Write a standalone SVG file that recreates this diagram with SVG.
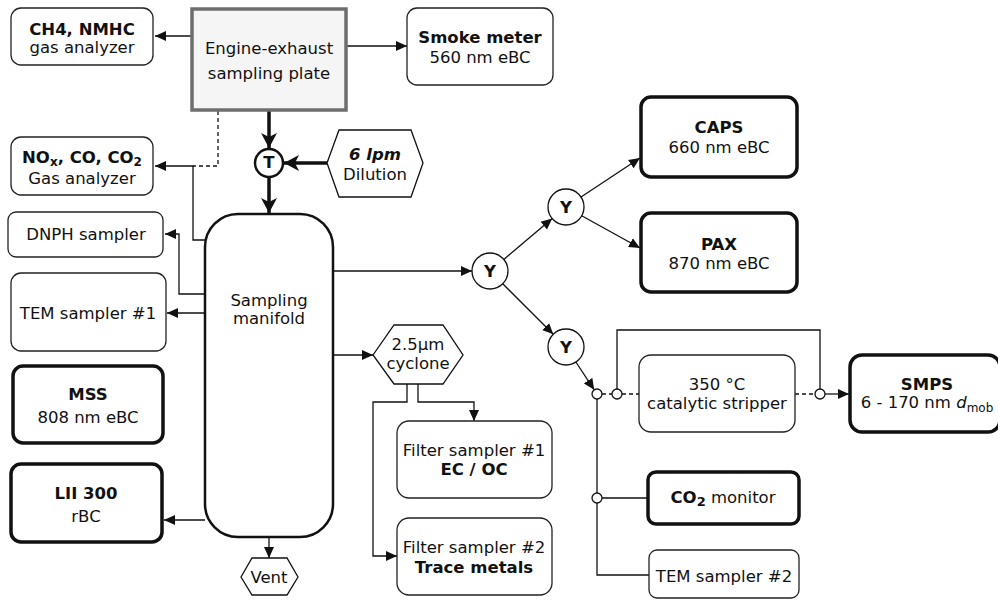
<svg xmlns="http://www.w3.org/2000/svg" width="998" height="600" viewBox="0 0 998 600">
  <defs>
    <style>
      text { font-family: "DejaVu Sans", Verdana, "Liberation Sans", sans-serif; font-size: 16.5px; fill: #111; text-anchor: middle; }
      .b { font-weight: bold; }
      .bi { font-weight: bold; font-style: italic; }
      .box { fill: #fff; stroke: #222; stroke-width: 1.3; }
      .thick { fill: #fff; stroke: #111; stroke-width: 3.5; }
      .plate { fill: #f5f5f5; stroke: #6e6e6e; stroke-width: 3.5; }
      .node { fill: #fff; stroke: #111; stroke-width: 1.3; }
      .conn { fill: none; stroke: #111; stroke-width: 1.3; }
      .dash { fill: none; stroke: #111; stroke-width: 1.3; stroke-dasharray: 4 3; }
      .heavy { fill: none; stroke: #111; stroke-width: 3.5; }
      .port { fill: #fff; stroke: #111; stroke-width: 1.3; }
    </style>
    <marker id="arr" markerUnits="userSpaceOnUse" markerWidth="14" markerHeight="12" refX="11" refY="6" orient="auto">
      <path d="M0,1 L11,6 L0,11 Z" fill="#111"/>
    </marker>
    <marker id="arrBig" markerUnits="userSpaceOnUse" markerWidth="20" markerHeight="20" refX="15" refY="10" orient="auto">
      <path d="M0,2 L15,10 L0,18 L4,10 Z" fill="#111"/>
    </marker>
  </defs>

  <!-- connectors -->
  <g id="connectors">
    <line class="conn" x1="192" y1="36" x2="155" y2="36" marker-end="url(#arr)"/>
    <line class="conn" x1="346" y1="46" x2="407" y2="46" marker-end="url(#arr)"/>
    <line class="heavy" x1="269" y1="111" x2="269" y2="148" marker-end="url(#arrBig)"/>
    <line class="heavy" x1="327" y1="163" x2="284" y2="163" marker-end="url(#arrBig)"/>
    <line class="heavy" x1="269" y1="178" x2="269" y2="213" marker-end="url(#arrBig)"/>
    <polyline class="dash" points="218,111 218,166 193,166"/>
    <polyline class="conn" points="205,240 193,240 193,166 155,166" marker-end="url(#arr)"/>
    <polyline class="conn" points="205,294 179,294 179,234 165,234" marker-end="url(#arr)"/>
    <line class="conn" x1="205" y1="313" x2="167" y2="313" marker-end="url(#arr)"/>
    <line class="conn" x1="205" y1="520" x2="164" y2="520" marker-end="url(#arr)"/>
    <line class="conn" x1="269" y1="538" x2="269" y2="558" marker-end="url(#arr)"/>
    <line class="conn" x1="334" y1="271" x2="472" y2="271" marker-end="url(#arr)"/>
    <line class="conn" x1="503.8" y1="259.4" x2="552.2" y2="218.6" marker-end="url(#arr)"/>
    <line class="conn" x1="581" y1="197" x2="640" y2="158" marker-end="url(#arr)"/>
    <line class="conn" x1="581.7" y1="215.7" x2="640" y2="248" marker-end="url(#arr)"/>
    <line class="conn" x1="502.7" y1="283.7" x2="553.3" y2="334.3" marker-end="url(#arr)"/>
    <line class="conn" x1="575.9" y1="362" x2="594.2" y2="389.8" marker-end="url(#arr)"/>
    <line class="conn" x1="334" y1="355" x2="373" y2="355" marker-end="url(#arr)"/>
    <polyline class="conn" points="407,384 407,402 373,402 373,556 397,556" marker-end="url(#arr)"/>
    <polyline class="conn" points="418,384 418,402 474,402 474,421" marker-end="url(#arr)"/>
    <line class="dash" x1="602" y1="394" x2="612" y2="394"/>
    <line class="dash" x1="622" y1="394" x2="639" y2="394"/>
    <line class="dash" x1="795" y1="394" x2="815" y2="394"/>
    <line class="conn" x1="825" y1="394" x2="849" y2="394" marker-end="url(#arr)"/>
    <polyline class="conn" points="617,389 617,330 820,330 820,389"/>
    <polyline class="conn" points="597,399 597,575 649,575"/>
    <line class="conn" x1="602" y1="498" x2="648" y2="498"/>
    <circle class="port" cx="597" cy="394" r="5"/>
    <circle class="port" cx="617" cy="394" r="5"/>
    <circle class="port" cx="820" cy="394" r="5"/>
    <circle class="port" cx="597" cy="498" r="5"/>
  </g>

  <!-- source and gas analysers -->
  <g id="plate">
    <rect class="plate" x="192" y="9" width="154" height="101"/>
    <text x="269" y="54">Engine-exhaust</text>
    <text x="269" y="79">sampling plate</text>
  </g>
  <g id="ch4">
    <rect class="box" x="11" y="8" width="142" height="57" rx="10"/>
    <text x="82" y="35" class="b">CH4, NMHC</text>
    <text x="82" y="53">gas analyzer</text>
  </g>
  <g id="smoke">
    <rect class="box" x="407" y="8" width="146" height="77" rx="10"/>
    <text x="480" y="43" class="b">Smoke meter</text>
    <text x="480" y="63">560 nm eBC</text>
  </g>
  <g id="nox">
    <rect class="box" x="11" y="137" width="142" height="58" rx="10"/>
    <text x="82" y="163" class="b">NO<tspan font-size="12" dy="3">x</tspan><tspan dy="-3">, CO, CO</tspan><tspan font-size="12" dy="3">2</tspan></text>
    <text x="82" y="184">Gas analyzer</text>
  </g>
  <g id="tee">
    <circle cx="269" cy="163" r="14" fill="#fff" stroke="#111" stroke-width="2.5"/>
    <text x="269" y="168" class="b" font-size="14">T</text>
  </g>
  <g id="dilution">
    <polygon class="node" points="327,163 339,130 411,130 423,163 411,197 339,197"/>
    <text x="375" y="160" class="bi">6 lpm</text>
    <text x="375" y="180">Dilution</text>
  </g>

  <!-- manifold and its samplers -->
  <g id="manifold">
    <rect x="205" y="214" width="128" height="323" rx="33" fill="#fff" stroke="#111" stroke-width="2.5"/>
    <text x="269" y="306">Sampling</text>
    <text x="269" y="324">manifold</text>
  </g>
  <g id="dnph">
    <rect class="box" x="8" y="212" width="155" height="45" rx="8"/>
    <text x="86" y="240">DNPH sampler</text>
  </g>
  <g id="tem1">
    <rect class="box" x="11" y="273" width="155" height="78" rx="10"/>
    <text x="88" y="319">TEM sampler #1</text>
  </g>
  <g id="mss">
    <rect class="thick" x="13" y="366" width="150" height="77" rx="10"/>
    <text x="88" y="400" class="b">MSS</text>
    <text x="88" y="423">808 nm eBC</text>
  </g>
  <g id="lii">
    <rect class="thick" x="11" y="464" width="151" height="78" rx="10"/>
    <text x="86" y="499" class="b">LII 300</text>
    <text x="86" y="522">rBC</text>
  </g>
  <g id="vent">
    <polygon class="node" points="241,577 252,558 287,558 298,577 287,595 252,595"/>
    <text x="269" y="583">Vent</text>
  </g>

  <!-- particle branch -->
  <g id="y1">
    <circle class="node" cx="490" cy="271" r="18"/>
    <text x="490" y="277" class="b">Y</text>
  </g>
  <g id="y2">
    <circle class="node" cx="566" cy="207" r="18"/>
    <text x="566" y="213" class="b">Y</text>
  </g>
  <g id="y3">
    <circle class="node" cx="566" cy="347" r="18"/>
    <text x="566" y="353" class="b">Y</text>
  </g>
  <g id="caps">
    <rect class="thick" x="641" y="97" width="156" height="80" rx="10"/>
    <text x="719" y="133" class="b">CAPS</text>
    <text x="719" y="153">660 nm eBC</text>
  </g>
  <g id="pax">
    <rect class="thick" x="641" y="213" width="156" height="79" rx="10"/>
    <text x="719" y="250" class="b">PAX</text>
    <text x="719" y="269">870 nm eBC</text>
  </g>
  <g id="cyclone">
    <polygon class="node" points="373,355 394,325 443,325 463,355 443,384 394,384"/>
    <text x="418" y="350">2.5µm</text>
    <text x="418" y="369">cyclone</text>
  </g>
  <g id="filter1">
    <rect class="box" x="397" y="421" width="155" height="77" rx="12"/>
    <text x="474" y="456">Filter sampler #1</text>
    <text x="474" y="475" class="b">EC / OC</text>
  </g>
  <g id="filter2">
    <rect class="box" x="397" y="518" width="155" height="77" rx="12"/>
    <text x="474" y="553">Filter sampler #2</text>
    <text x="474" y="573" class="b">Trace metals</text>
  </g>
  <g id="stripper">
    <rect class="box" x="639" y="355" width="156" height="77" rx="12"/>
    <text x="717" y="390">350 °C</text>
    <text x="717" y="409">catalytic stripper</text>
  </g>
  <g id="smps">
    <rect class="thick" x="850" y="355" width="150" height="77" rx="12"/>
    <text x="927" y="390" class="b">SMPS</text>
    <text x="927" y="408">6 - 170 nm <tspan font-style="italic">d</tspan><tspan font-size="12" dy="4">mob</tspan></text>
  </g>
  <g id="co2">
    <rect class="thick" x="648" y="472" width="151" height="52" rx="8"/>
    <text x="723" y="503"><tspan class="b">CO</tspan><tspan class="b" font-size="13" dy="3">2</tspan><tspan dy="-3"> monitor</tspan></text>
  </g>
  <g id="tem2">
    <rect class="box" x="649" y="550" width="150" height="48" rx="8"/>
    <text x="724" y="582">TEM sampler #2</text>
  </g>
</svg>
